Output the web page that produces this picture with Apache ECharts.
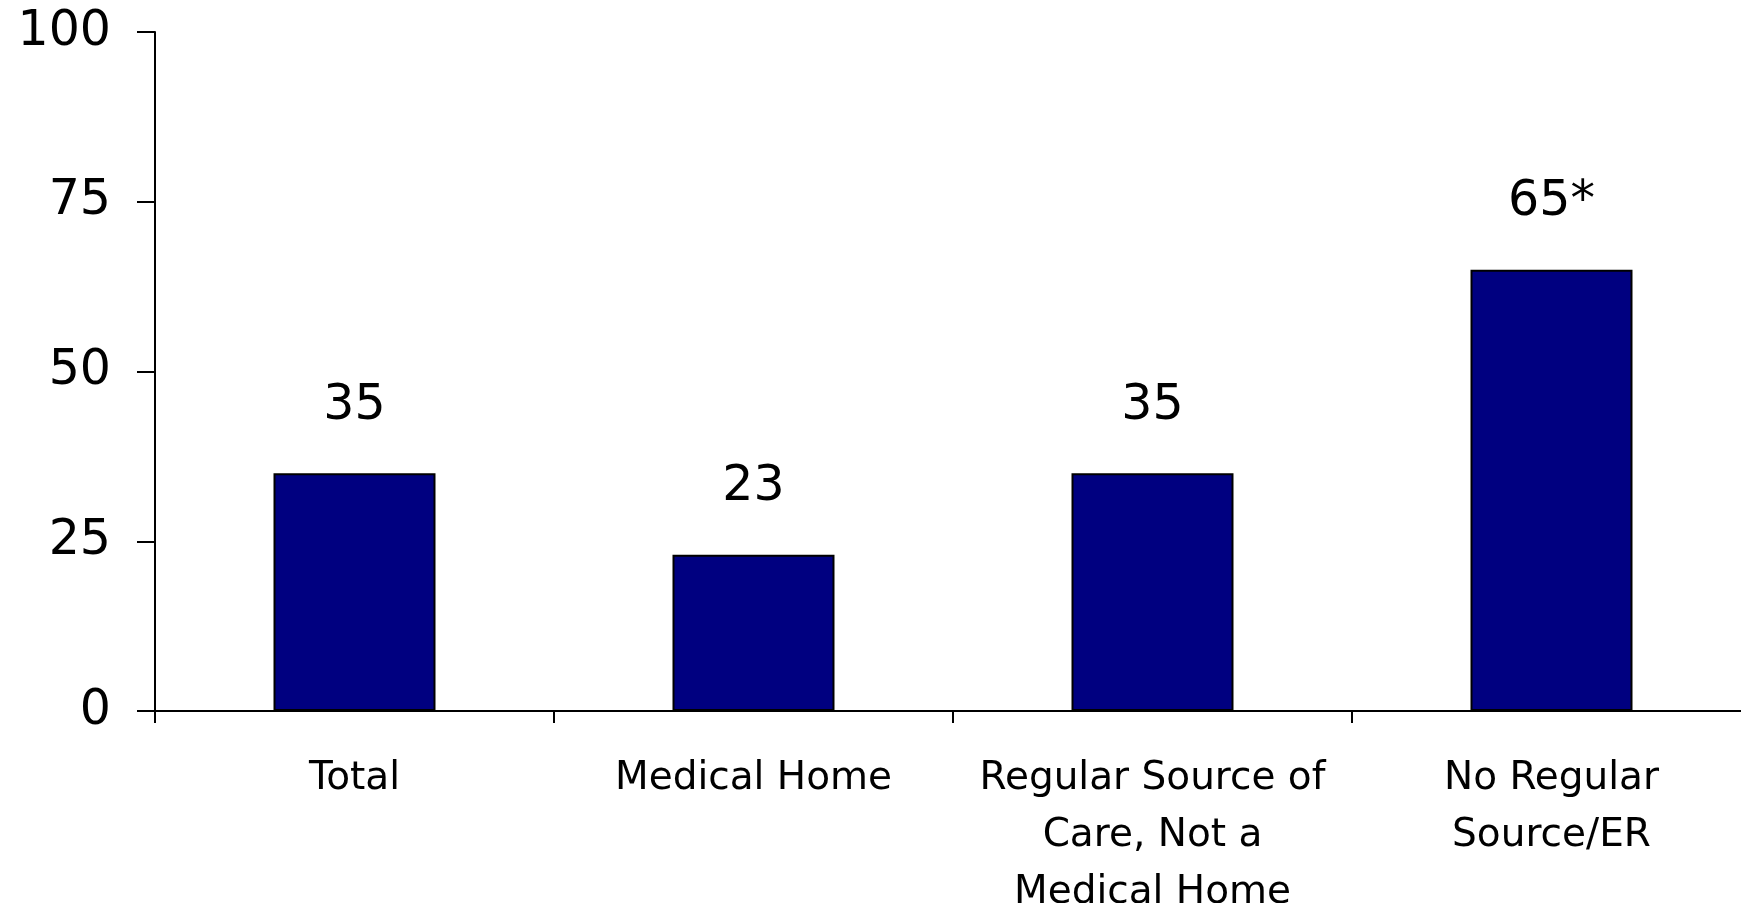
<!DOCTYPE html>
<html>
<head>
<meta charset="utf-8">
<script src="https://cdn.jsdelivr.net/npm/echarts@6/dist/echarts.min.js"></script>
<style>
html,body{margin:0;padding:0;background:#fff;}
#chart{width:1741px;height:903px;}
</style>
</head>
<body>
<div id="chart"></div>
<script>
const categories = ['Total', 'Medical Home', 'Regular Source of\nCare, Not a\nMedical Home', 'No Regular\nSource/ER'];
const values = [35, 23, 35, 65];
const valueLabels = ['35', '23', '35', '65*'];
const yTicks = [0, 25, 50, 75, 100];

const chart = echarts.init(document.getElementById('chart'));
chart.setOption({
  animation: false,
  backgroundColor: '#ffffff',
  grid: { left: 155, top: 32, bottom: 192, right: -10, containLabel: false, outerBoundsMode: 'none' },
  xAxis: {
    type: 'category',
    data: categories,
    axisLine: { lineStyle: { color: '#000', width: 2 } },
    axisTick: { show: true, length: 12, lineStyle: { color: '#000', width: 2 } },
    axisLabel: {
      interval: 0,
      margin: 39,
      fontFamily: 'DejaVu Sans',
      fontSize: 39,
      lineHeight: 57,
      color: '#000'
    }
  },
  yAxis: {
    type: 'value',
    min: yTicks[0],
    max: yTicks[yTicks.length - 1],
    interval: 25,
    splitLine: { show: false },
    axisLine: { show: true, lineStyle: { color: '#000', width: 2 } },
    axisTick: { show: true, length: 18, lineStyle: { color: '#000', width: 2 } },
    axisLabel: {
      margin: 44,
      fontFamily: 'DejaVu Sans',
      fontSize: 49,
      color: '#000'
    }
  },
  series: [{
    type: 'bar',
    data: values,
    barWidth: '40.6%',
    itemStyle: { color: '#000080', borderColor: '#000', borderWidth: 2 },
    label: {
      show: true,
      position: 'top',
      distance: 43,
      fontFamily: 'DejaVu Sans',
      fontSize: 49,
      color: '#000',
      formatter: function (p) { return valueLabels[p.dataIndex]; }
    }
  }]
});
</script>
</body>
</html>
